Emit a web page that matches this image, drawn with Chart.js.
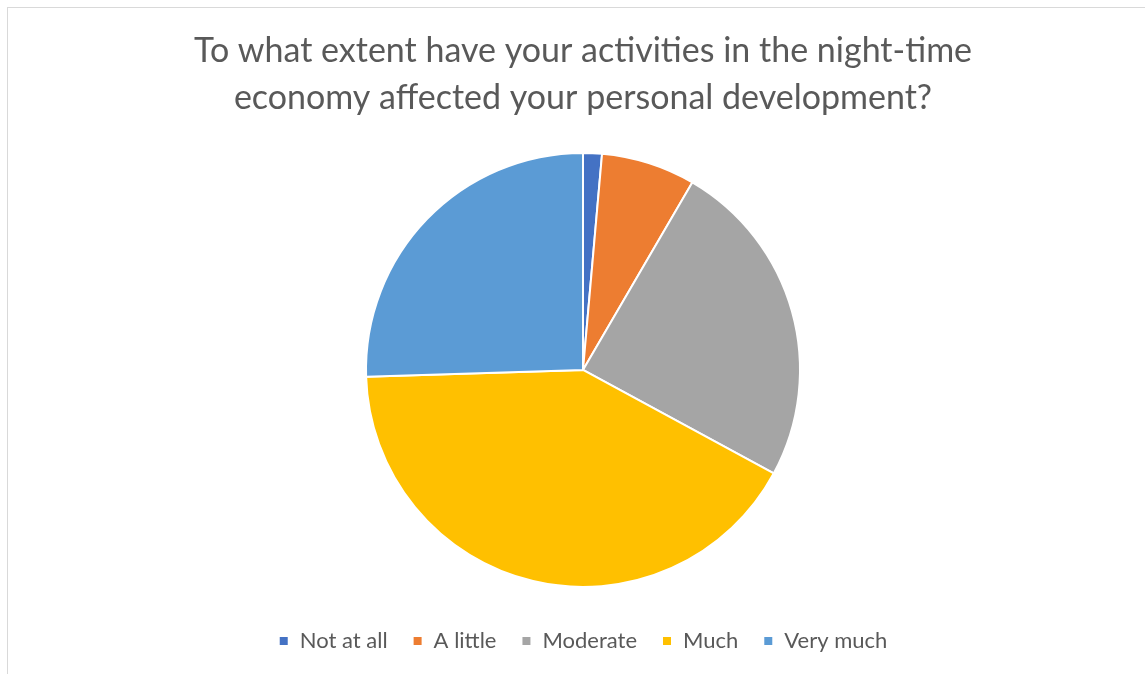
<!DOCTYPE html>
<html>
<head>
<meta charset="utf-8">
<script src="https://cdn.jsdelivr.net/npm/chart.js@4.4.0/dist/chart.umd.min.js"></script>
<style>
  html, body { margin: 0; padding: 0; background: #fff; overflow: hidden; }
  #frame {
    position: absolute; left: 7px; top: 7px; width: 1150px; height: 680px;
    border: 1px solid #d9d9d9;
  }
  #wrap { position: absolute; left: 0; top: 0; width: 1145px; height: 674px; }
</style>
</head>
<body>
<div id="frame"></div>
<div id="wrap"><canvas id="pieChart" width="1145" height="674"></canvas></div>
<script>
// Survey answers (share of respondents, %)
const answers = ['Not at all', 'A little', 'Moderate', 'Much', 'Very much'];
const shares = [1.4, 7.0, 24.5, 41.6, 25.5];
const sliceColors = ['#4472C4', '#ED7D31', '#A5A5A5', '#FFC000', '#5B9BD5'];
const titleLines = [
  'To what extent have your activities in the night-time',
  'economy affected your personal development?'
];

const ctxPie = document.getElementById('pieChart').getContext('2d');
const pieChart = new Chart(ctxPie, {
  type: 'pie',
  data: {
    labels: answers,
    datasets: [{
      data: shares,
      backgroundColor: sliceColors,
      borderColor: '#ffffff',
      borderWidth: 2
    }]
  },
  options: {
    responsive: false,
    animation: false,
    radius: 217,
    layout: { padding: { top: 0, bottom: 12, left: 21 } },
    plugins: {
      tooltip: { enabled: false },
      title: {
        display: true,
        text: titleLines,
        color: '#595959',
        font: { family: 'Lato', size: 34, weight: 'normal', lineHeight: 1.38 },
        padding: { top: 28, bottom: 13 }
      },
      legend: {
        position: 'bottom',
        labels: {
          color: '#595959',
          font: { family: 'Lato', size: 22 },
          boxWidth: 10,
          boxHeight: 10,
          padding: 25
        }
      }
    }
  }
});
</script>
</body>
</html>
